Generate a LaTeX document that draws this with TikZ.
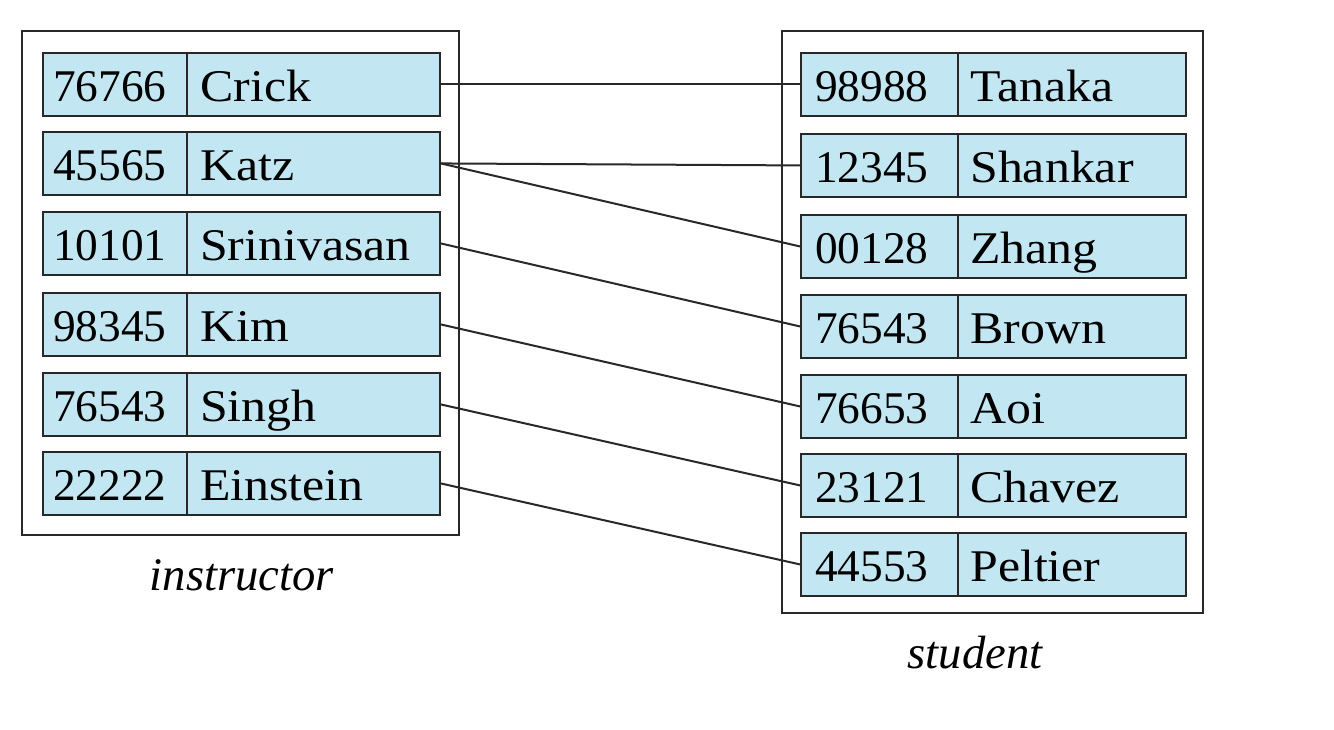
\documentclass[tikz,border=0pt]{standalone}
\usepackage{fontspec}
\setmainfont{Liberation Serif}
\newfontfamily\namefont[FakeStretch=1.1]{Liberation Serif}
\definecolor{cellblue}{RGB}{195,231,242}
\definecolor{linegray}{RGB}{40,40,40}
\tikzset{
  cell/.style={draw=linegray, fill=cellblue, line width=1.4pt, minimum height=47.25pt,
    inner sep=0pt, anchor=north west},
  lid/.style={cell, minimum width=108pt},
  lname/.style={cell, minimum width=189.75pt},
  rid/.style={cell, minimum width=117.75pt},
  rname/.style={cell, minimum width=171pt},
  celltext/.style={anchor=base west, inner sep=0pt, font=\fontsize{34}{40}\selectfont},
  nametext/.style={celltext, font=\fontsize{34}{40}\namefont},
  outer/.style={draw=linegray, line width=1.4pt},
  conn/.style={draw=linegray, line width=1.5pt},
  caption/.style={font=\fontsize{35}{40}\selectfont\itshape, anchor=base}
}
\begin{document}
\begin{tikzpicture}[x=0.75pt, y=-0.75pt]
\useasboundingbox (0,0) rectangle (1334,729);
% outer boxes
\draw[outer] (22,31) rectangle (459,535);
\draw[outer] (782,31) rectangle (1203,613);
% instructor rows
\foreach \i/\y/\id/\nm in {1/52/76766/Crick, 2/131/45565/Katz, 3/211/10101/Srinivasan, 4/292/98345/Kim, 5/372/76543/Singh, 6/451/22222/Einstein}{
  \node[lid] (LI\i) at (42,\y) {};
  \node[lname] (LN\i) at (186,\y) {};
  \node[celltext] (LIt\i) at ([xshift=8.25pt, yshift=11.5pt]LI\i.south west) {\id};
  \node[nametext] (LNt\i) at ([xshift=10.5pt, yshift=11.5pt]LN\i.south west) {\nm};
}
% student rows
\foreach \i/\y/\id/\nm in {1/52/98988/Tanaka, 2/133/12345/Shankar, 3/214/00128/Zhang, 4/294/76543/Brown, 5/374/76653/Aoi, 6/453/23121/Chavez, 7/532/44553/Peltier}{
  \node[rid] (RI\i) at (800,\y) {};
  \node[rname] (RN\i) at (957,\y) {};
  \node[celltext] (RIt\i) at ([xshift=11.25pt, yshift=11.5pt]RI\i.south west) {\id};
  \node[nametext] (RNt\i) at ([xshift=9.75pt, yshift=11.5pt]RN\i.south west) {\nm};
}
% connectors
\draw[conn] (LN1.east) -- (RI1.west);
\draw[conn] (LN2.east) -- (RI2.west);
\draw[conn] (LN2.east) -- (RI3.west);
\draw[conn] (LN3.east) -- (RI4.west);
\draw[conn] (LN4.east) -- (RI5.west);
\draw[conn] (LN5.east) -- (RI6.west);
\draw[conn] (LN6.east) -- (RI7.west);
% captions
\node[caption] (capI) at (242,590) {instructor};
\node[caption] (capS) at (975,668) {student};
\end{tikzpicture}
\end{document}
